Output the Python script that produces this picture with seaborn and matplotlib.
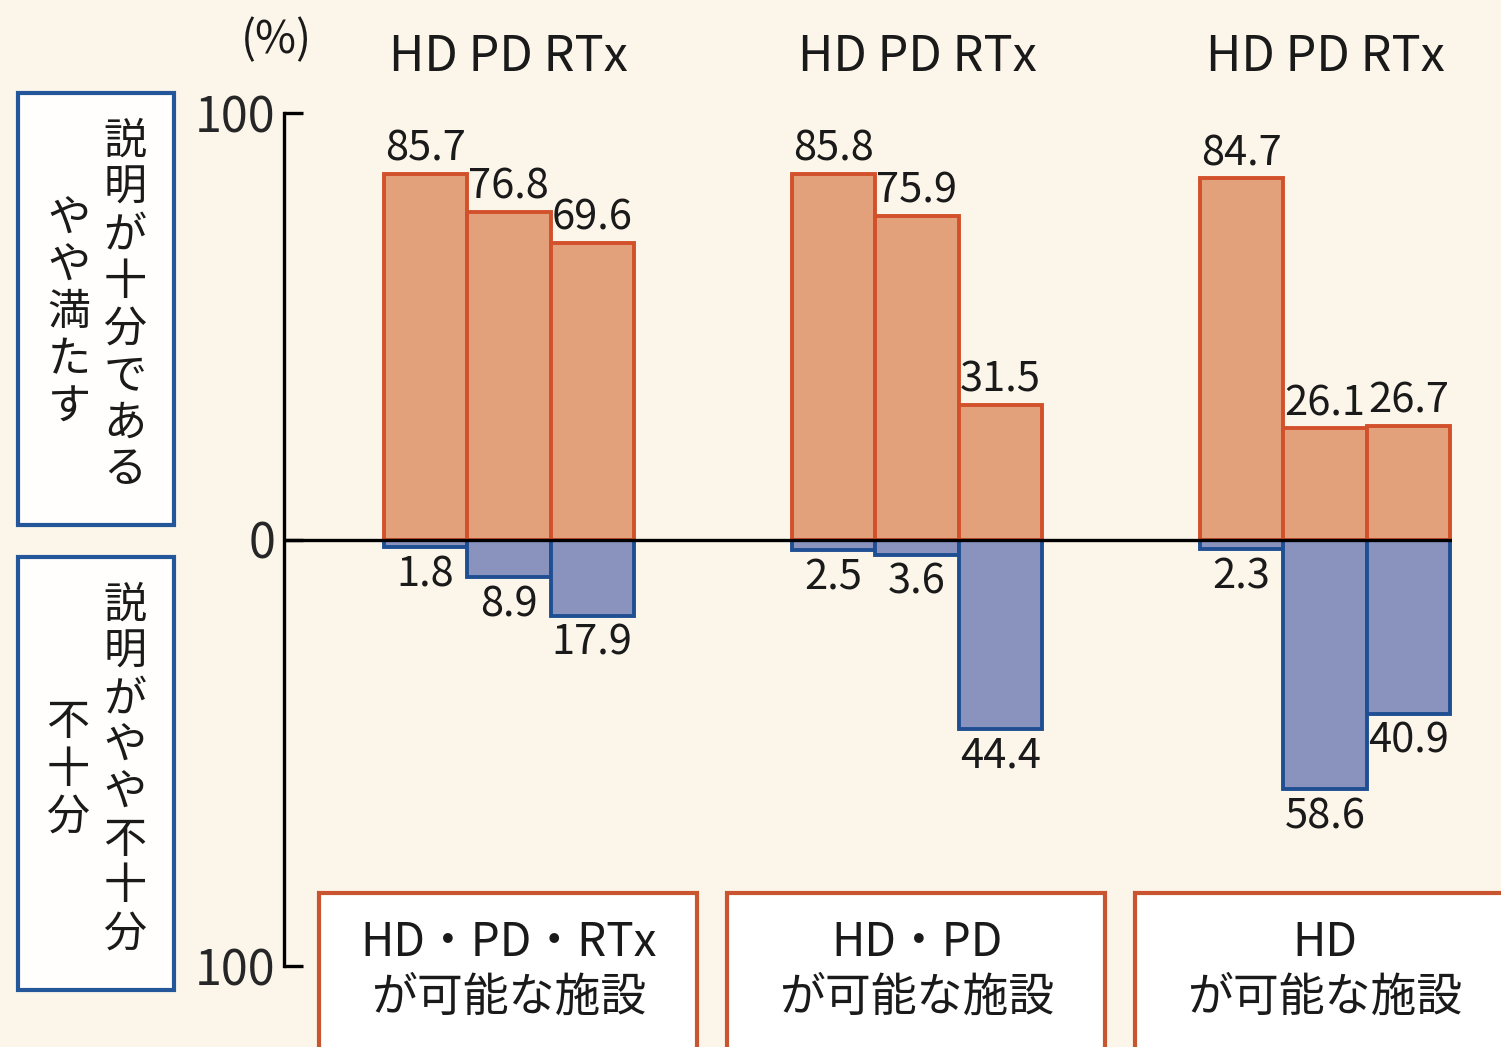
import matplotlib
matplotlib.use("Agg")
import matplotlib.pyplot as plt
import matplotlib.transforms as mtransforms
from matplotlib.patches import Rectangle
import pandas as pd
import seaborn as sns

# ---- data -------------------------------------------------------------
facilities = ["HD・PD・RTx\nが可能な施設", "HD・PD\nが可能な施設", "HD\nが可能な施設"]
modalities = ["HD", "PD", "RTx"]
# 説明が十分である / やや満たす (%)
sufficient = [
    [85.7, 76.8, 69.6],
    [85.8, 75.9, 31.5],
    [84.7, 26.1, 26.7],
]
# 説明がやや不十分 / 不十分 (%)
insufficient = [
    [1.8, 8.9, 17.9],
    [2.5, 3.6, 44.4],
    [2.3, 58.6, 40.9],
]
y_ticks = [-100, 0, 100]
y_ticklabels = ["100", "0", "100"]
upper_label = ["説明が十分である", "やや満たす"]
lower_label = ["説明がやや不十分", "不十分"]

# ---- style ------------------------------------------------------------
BG = "#FCF6EA"
ORANGE = "#E3A17B"
ORANGE_EDGE = "#D2502B"
BLUE = "#8A93BE"
BLUE_EDGE = "#1F4F92"
BOX_BLUE = "#23579A"
BOX_ORANGE = "#C8552F"

sns.set_theme(style="white")
plt.rcParams["font.family"] = ["Noto Sans CJK JP", "DejaVu Sans"]
plt.rcParams["text.color"] = "#1a1a1a"

W, H = 1501, 1047
fig = plt.figure(figsize=(W / 100, H / 100), dpi=100)
fig.patch.set_facecolor(BG)


def fx(px):
    return px / W


def fy(py):
    return 1 - py / H


ax = fig.add_axes([fx(284), fy(966), fx(1452) - fx(284), fy(113) - fy(966)])
ax.set_facecolor(BG)

rows = []
for gi, fac in enumerate(facilities):
    for mi, mod in enumerate(modalities):
        rows.append({
            "facility": fac,
            "modality": mod,
            "sufficient": sufficient[gi][mi],
            "insufficient": -insufficient[gi][mi],
        })
df = pd.DataFrame(rows)

bar_kw = dict(data=df, x="facility", hue="modality", order=facilities,
              hue_order=modalities, width=0.613, gap=0, dodge=True,
              errorbar=None, saturation=1, legend=False, ax=ax,
              linewidth=2.8)

sns.barplot(y="insufficient", palette=[BLUE] * 3, edgecolor=BLUE_EDGE, **bar_kw)
n_neg = len(ax.containers)
sns.barplot(y="sufficient", palette=[ORANGE] * 3, edgecolor=ORANGE_EDGE, **bar_kw)

neg_containers = ax.containers[:n_neg]
pos_containers = ax.containers[n_neg:]

for mi, cont in enumerate(pos_containers):
    labels = [f"{sufficient[gi][mi]:.1f}" for gi in range(len(facilities))]
    ax.bar_label(cont, labels=labels, padding=3, fontsize=30)
for mi, cont in enumerate(neg_containers):
    labels = [f"{insufficient[gi][mi]:.1f}" for gi in range(len(facilities))]
    ax.bar_label(cont, labels=labels, padding=5, fontsize=30)

ax.axhline(0, color="black", lw=2.4, zorder=5)

ax.set_xlim(-0.551, 2.311)
ax.set_ylim(-100, 100)
ax.set_xticks([])
ax.set_yticks(y_ticks)
ax.set_yticklabels(y_ticklabels)
ax.tick_params(axis="y", direction="in", length=14, width=2.4, pad=6,
               labelsize=35, color="black", left=True)
ax.set_xlabel("")
ax.set_ylabel("")
for side in ["top", "right", "bottom"]:
    ax.spines[side].set_visible(False)
ax.spines["left"].set_color("black")
ax.spines["left"].set_linewidth(2.4)

# modality headers over each facility group
blend = mtransforms.blended_transform_factory(ax.transData, fig.transFigure)
for gi in range(len(facilities)):
    ax.text(gi, fy(57), " ".join(modalities), transform=blend,
            ha="center", va="center", fontsize=35, clip_on=False)

fig.text(fx(276), fy(40), "(%)", ha="center", va="center", fontsize=32)

# facility boxes under the groups
for gi, fac in enumerate(facilities):
    box = Rectangle((gi - 0.465, fy(1060)), 0.925, fy(893) - fy(1060),
                    transform=blend, facecolor="white", edgecolor=BOX_ORANGE,
                    linewidth=3, clip_on=False, zorder=3)
    ax.add_artist(box)
    line1, line2 = fac.split("\n")
    ax.text(gi, fy(943), line1, transform=blend, ha="center", va="center",
            fontsize=33, clip_on=False, zorder=4)
    ax.text(gi, fy(998), line2, transform=blend, ha="center", va="center",
            fontsize=33, clip_on=False, zorder=4)

# vertical legend boxes on the left
for top, bottom in [(93, 525), (557, 990)]:
    fig.add_artist(Rectangle((fx(18), fy(bottom)), fx(174) - fx(18),
                             fy(top) - fy(bottom), transform=fig.transFigure,
                             facecolor="#FFFEFC", edgecolor=BOX_BLUE,
                             linewidth=3))


def vertical_text(x_px, y_top_px, s, pitch=47, size=31):
    for k, ch in enumerate(s):
        fig.text(fx(x_px), fy(y_top_px + pitch * (k + 0.5)), ch,
                 ha="center", va="center", fontsize=size)


vertical_text(125, 118, upper_label[0])
vertical_text(69, 196, upper_label[1])
vertical_text(125, 582, lower_label[0])
vertical_text(68, 700, lower_label[1])

fig.savefig("out.png", dpi=100, facecolor=BG)
